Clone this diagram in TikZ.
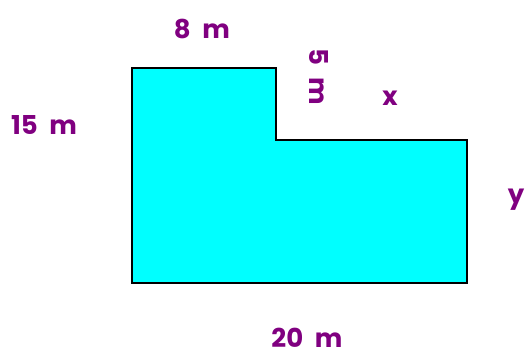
\documentclass[tikz,border=0pt]{standalone}
\usepackage{fontspec}
\setmainfont{Poppins}
\definecolor{lblpurple}{HTML}{800080}
\definecolor{shapecyan}{HTML}{00FFFF}
\begin{document}
\begin{tikzpicture}[x=1pt,y=-1pt,
  lbl/.style={text=lblpurple,font=\fontsize{26}{28}\selectfont\bfseries,inner sep=0pt}]
\useasboundingbox (0,0) rectangle (527,352);
\coordinate (p1) at (132,68);
\coordinate (p2) at (276,68);
\coordinate (p3) at (276,140);
\coordinate (p4) at (467,140);
\coordinate (p5) at (467,283);
\coordinate (p6) at (132,283);
\draw[fill=shapecyan,line width=2pt] (p1) -- (p2) -- (p3) -- (p4) -- (p5) -- (p6) -- cycle;
\node[lbl] (top) at (202,29) {8\hspace{0.45em}m};
\node[lbl,rotate=-90] (five) at (319,77) {5\hspace{0.45em}m};
\node[lbl] (x) at (390,98) {x};
\node[lbl] (left) at (44,125) {15\hspace{0.45em}m};
\node[lbl] (y) at (516,200) {y};
\node[lbl,text height=18pt,text depth=0pt] (bottom) at (307,338) {20\hspace{0.45em}m};
\end{tikzpicture}
\end{document}
